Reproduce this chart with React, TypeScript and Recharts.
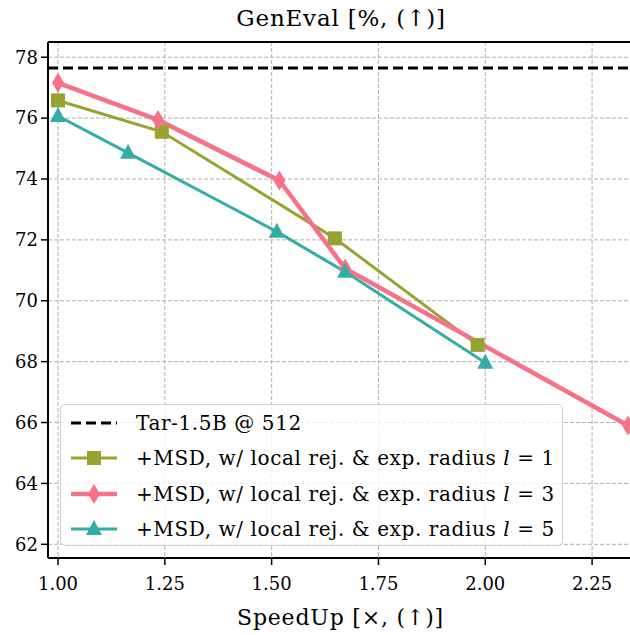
import { FC } from 'react';
import {
    LineChart,
    Line,
    XAxis,
    YAxis,
    CartesianGrid,
    ReferenceLine,
} from 'recharts';

const speedL1 = [1.0, 1.243, 1.648, 1.982];
const genevalL1 = [76.58, 75.55, 72.05, 68.55];
const speedL3 = [1.0, 1.234, 1.518, 1.672, 2.334];
const genevalL3 = [77.16, 75.94, 73.95, 71.06, 65.9];
const speedL5 = [1.0, 1.164, 1.512, 1.672, 2.0];
const genevalL5 = [76.07, 74.86, 72.27, 70.95, 67.96];
const baselineGeneval = 77.65;

const xTicks = [1.0, 1.25, 1.5, 1.75, 2.0, 2.25];
const yTicks = [62, 64, 66, 68, 70, 72, 74, 76, 78];

const toPoints = (xs: number[], ys: number[]) => xs.map((x, i) => ({ x, y: ys[i] }));

const OLIVE = '#97a431';
const PINK = '#f77189';
const TEAL = '#36ada4';
const FONT = 'DejaVu Serif';

const Square = ({ cx, cy, index }: any) => (
    <rect key={index} x={cx - 7} y={cy - 7} width={14} height={14} fill={OLIVE} />
);
const Diamond = ({ cx, cy, index }: any) => (
    <polygon key={index} points={`${cx},${cy - 10} ${cx + 6},${cy} ${cx},${cy + 10} ${cx - 6},${cy}`} fill={PINK} />
);
const Triangle = ({ cx, cy, index }: any) => (
    <polygon key={index} points={`${cx},${cy - 9} ${cx + 8},${cy + 6} ${cx - 8},${cy + 6}`} fill={TEAL} />
);

const legendRows = [
    { label: 'Tar-1.5B @ 512', l: null as string | null },
    { label: '+MSD, w/ local rej. & exp. radius ', l: '1' },
    { label: '+MSD, w/ local rej. & exp. radius ', l: '3' },
    { label: '+MSD, w/ local rej. & exp. radius ', l: '5' },
];

const LegendIcon: FC<{ i: number }> = ({ i }) => (
    <svg width={50} height={24} style={{ display: 'block' }}>
        {i === 0 && <line x1={2} x2={48} y1={12} y2={12} stroke="#000" strokeWidth={3} strokeDasharray="10 5" />}
        {i === 1 && (
            <>
                <line x1={2} x2={48} y1={12} y2={12} stroke={OLIVE} strokeWidth={3} />
                <rect x={18} y={5} width={14} height={14} fill={OLIVE} />
            </>
        )}
        {i === 2 && (
            <>
                <line x1={2} x2={48} y1={12} y2={12} stroke={PINK} strokeWidth={4.5} />
                <polygon points="25,2 31,12 25,22 19,12" fill={PINK} />
            </>
        )}
        {i === 3 && (
            <>
                <line x1={2} x2={48} y1={12} y2={12} stroke={TEAL} strokeWidth={3} />
                <polygon points="25,3 33,18 17,18" fill={TEAL} />
            </>
        )}
    </svg>
);

const App: FC = () => {
    return (
        <div
            style={{
                position: 'absolute',
                left: 0,
                top: 0,
                width: 630,
                height: 635,
                overflow: 'hidden',
                background: '#fff',
                fontFamily: FONT,
            }}
        >
            <div
                style={{
                    position: 'absolute',
                    top: 5,
                    left: 0,
                    width: 682,
                    textAlign: 'center',
                    fontSize: 23,
                    letterSpacing: 0.8,
                    color: '#000',
                }}
            >
                GenEval [%, (↑)]
            </div>
            <LineChart
                width={640}
                height={635}
                margin={{ top: 42, right: 7, bottom: 0, left: 0 }}
                style={{ fontFamily: FONT }}
            >
                <CartesianGrid stroke="#b0b0b0" strokeDasharray="4 2" strokeWidth={1} />
                <XAxis
                    type="number"
                    dataKey="x"
                    domain={[0.9766, 2.3457]}
                    ticks={xTicks}
                    tickFormatter={(v: number) => v.toFixed(2)}
                    height={77}
                    tickSize={7}
                    tickMargin={12}
                    stroke="#000"
                    axisLine={{ stroke: '#000', strokeWidth: 2 }}
                    tickLine={{ stroke: '#000', strokeWidth: 1.5 }}
                    tick={{ fill: '#000', fontSize: 18, fontFamily: FONT }}
                    allowDataOverflow
                    label={{
                        value: 'SpeedUp [×, (↑)]',
                        position: 'insideBottom',
                        offset: 10,
                        fill: '#000',
                        fontSize: 22,
                        fontFamily: FONT,
                        letterSpacing: 0.8,
                    }}
                />
                <YAxis
                    type="number"
                    dataKey="y"
                    domain={[61.55, 78.5]}
                    ticks={yTicks}
                    width={48}
                    tickSize={7}
                    tickMargin={3}
                    stroke="#000"
                    axisLine={{ stroke: '#000', strokeWidth: 2 }}
                    tickLine={{ stroke: '#000', strokeWidth: 1.5 }}
                    tick={{ fill: '#000', fontSize: 18, fontFamily: FONT }}
                    allowDataOverflow
                />
                <ReferenceLine y={78.5} stroke="#000" strokeWidth={2} />
                <ReferenceLine y={baselineGeneval} stroke="#000" strokeWidth={3} strokeDasharray="10 5" />
                <Line
                    data={toPoints(speedL1, genevalL1)}
                    dataKey="y"
                    stroke={OLIVE}
                    strokeWidth={3}
                    dot={Square}
                    activeDot={false}
                    isAnimationActive={false}
                />
                <Line
                    data={toPoints(speedL3, genevalL3)}
                    dataKey="y"
                    stroke={PINK}
                    strokeWidth={4.5}
                    dot={Diamond}
                    activeDot={false}
                    isAnimationActive={false}
                />
                <Line
                    data={toPoints(speedL5, genevalL5)}
                    dataKey="y"
                    stroke={TEAL}
                    strokeWidth={3}
                    dot={Triangle}
                    activeDot={false}
                    isAnimationActive={false}
                />
            </LineChart>
            <div
                style={{
                    position: 'absolute',
                    left: 60,
                    top: 404,
                    width: 503,
                    height: 142,
                    border: '1.5px solid #d0d0d0',
                    borderRadius: 5,
                    background: 'rgba(255,255,255,0.8)',
                    padding: '0 0 0 8px',
                    boxSizing: 'border-box',
                }}
            >
                {legendRows.map((r, i) => (
                    <div
                        key={i}
                        style={{ display: 'flex', alignItems: 'center', height: 35.5, fontSize: 20, letterSpacing: 0.6 }}
                    >
                        <LegendIcon i={i} />
                        <span style={{ marginLeft: 17, whiteSpace: 'nowrap' }}>
                            {r.label}
                            {r.l && (
                                <>
                                    <i>l</i> = {r.l}
                                </>
                            )}
                        </span>
                    </div>
                ))}
            </div>
        </div>
    );
};

export default App;
